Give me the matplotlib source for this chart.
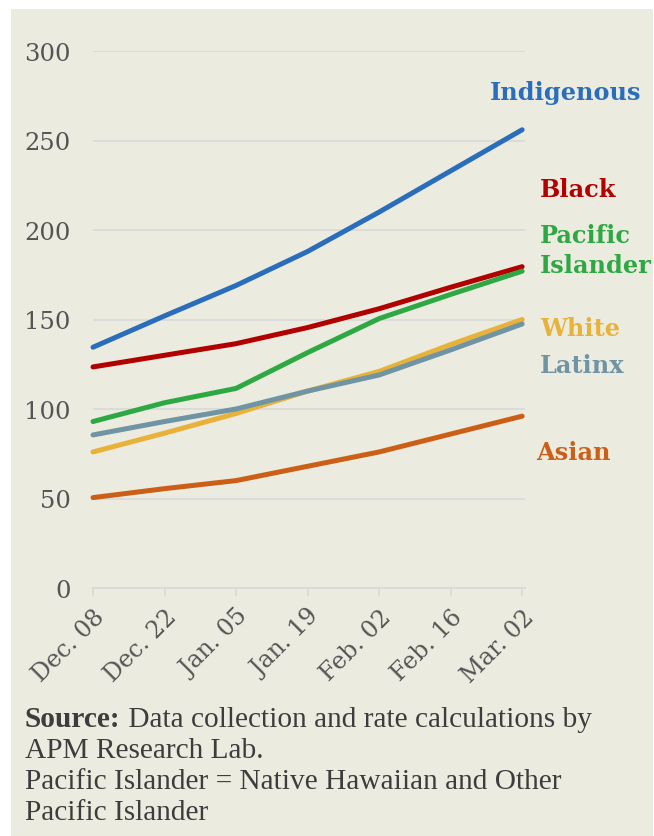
import matplotlib.pyplot as plt
from matplotlib.patches import Rectangle

# Rates by group, every two weeks
dates = ["Dec. 08", "Dec. 22", "Jan. 05", "Jan. 19", "Feb. 02", "Feb. 16", "Mar. 02"]
indigenous = [134.5, 152, 169, 188, 210, 233, 256]
black = [123.5, 130, 136.5, 145.5, 156, 168, 179.5]
pacific = [93, 103.5, 111.5, 131.5, 150.5, 164, 177]
white = [76, 86.5, 97.5, 110, 121, 136, 150]
latinx = [85.5, 93, 100, 110, 119, 133, 147.5]
asian = [50.5, 55.5, 60, 68, 76, 86, 96]

series = [
    ("Indigenous", indigenous, "#2a6ebb", 5.55, 277),
    ("Black", black, "#b00000", 6.25, 223),
    ("Pacific\nIslander", pacific, "#2ea843", 6.25, 189),
    ("White", white, "#e8b23a", 6.25, 145),
    ("Latinx", latinx, "#6f94a4", 6.25, 124.5),
    ("Asian", asian, "#cc5f17", 6.2, 76),
]

bg = "#ecebdf"
grid = "#d8d9d9"
tick_col = "#555555"

fig = plt.figure(figsize=(6.54, 8.37), dpi=100, facecolor="white")
fig.patches.append(Rectangle((11 / 654, 0), 642 / 654, 1 - 10 / 837,
                             transform=fig.transFigure, facecolor=bg,
                             edgecolor="none", zorder=-10))

ax = fig.add_axes([93 / 654, (837 - 589) / 837, 432 / 654, 537 / 837])
ax.set_facecolor("none")

x = list(range(len(dates)))
for name, vals, col, lx, ly in series:
    ax.plot(x, vals, color=col, lw=3.6, solid_capstyle="round",
            solid_joinstyle="round", zorder=3, clip_on=False)
    ax.text(lx, ly, name, color=col, fontsize=17.3, fontweight="bold",
            family="DejaVu Serif", va="center", ha="left",
            linespacing=1.3, clip_on=False)

ax.set_xlim(0, 6.04)
ax.set_ylim(0, 300)
ax.set_yticks(range(0, 301, 50))
ax.set_xticks(x)
ax.set_xticklabels(dates, rotation=45, ha="right", rotation_mode="anchor",
                   family="DejaVu Serif", fontsize=17, color=tick_col)
for lab in ax.get_yticklabels():
    lab.set_family("DejaVu Serif")
    lab.set_fontsize(17.5)
    lab.set_color(tick_col)

ax.grid(axis="y", color=grid, lw=1.2, zorder=0)
for side in ["top", "right", "left"]:
    ax.spines[side].set_visible(False)
ax.spines["bottom"].set_color(grid)
ax.spines["bottom"].set_linewidth(1.2)
ax.tick_params(axis="y", length=0, pad=16)
ax.tick_params(axis="x", length=6, width=1.2, color=grid, pad=6)

# footnote
note_kw = dict(fontsize=21.2, color="#3d3d3d", family="Liberation Serif")
src = fig.text(25 / 654, 1 - 720 / 837, "Source:", fontweight="bold",
               va="center", **note_kw)
ax.annotate(" Data collection and rate calculations by", xy=(1, 0.5),
            xycoords=src, va="center", ha="left", **note_kw)
lines = ["APM Research Lab.",
         "Pacific Islander = Native Hawaiian and Other",
         "Pacific Islander"]
for i, t in enumerate(lines):
    fig.text(25 / 654, 1 - (751 + 31 * i) / 837, t, va="center", **note_kw)

fig.savefig("out.png", dpi=100, facecolor="white")
